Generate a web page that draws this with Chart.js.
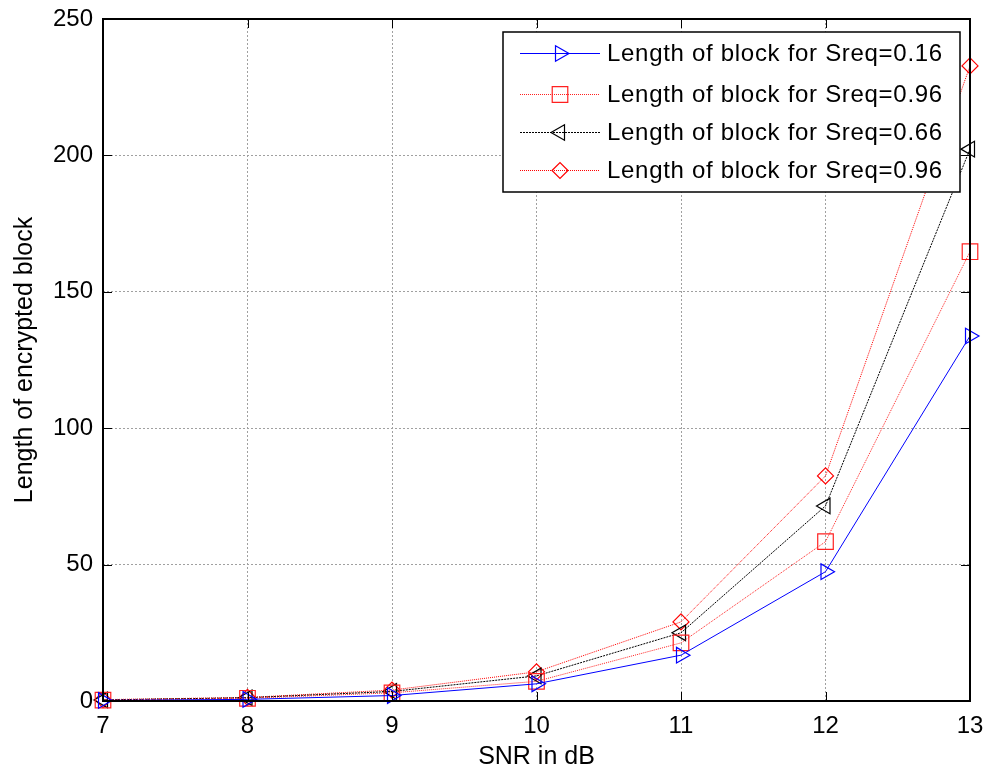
<!DOCTYPE html>
<html>
  <head>
    <title>Length of encrypted block vs SNR</title>
    <script src="https://cdn.jsdelivr.net/npm/chart.js"></script>
    <style>
      html, body { margin: 0; padding: 0; background: #fff; }
      #wrap { width: 989px; height: 773px; }
    </style>
  </head>
  <body>
    <div id="wrap"><canvas id="myChart"></canvas></div>

    <script>
      // values
      const snr = [7, 8, 9, 10, 11, 12, 13];
      const sreq016 = [0.2, 0.6, 2, 6.3, 16.8, 47.4, 133.8];
      const sreq096a = [0.3, 1, 3, 7.2, 21.3, 58.4, 164.7];
      const sreq066 = [0.4, 1.2, 3.5, 9.2, 25, 71.5, 202.3];
      const sreq096b = [0.5, 1.3, 4, 10.7, 29, 82.5, 232.8];
      const seriesLabels = [
        "Length of block for Sreq=0.16",
        "Length of block for Sreq=0.96",
        "Length of block for Sreq=0.66",
        "Length of block for Sreq=0.96",
      ];
      const xTicks = [7, 8, 9, 10, 11, 12, 13];
      const yTicks = [0, 50, 100, 150, 200, 250];

      const FONT = "'Liberation Sans', Arial, sans-serif";
      const toXY = (arr) => arr.map((v, i) => ({ x: snr[i], y: v }));

      const styles = [
        { color: "#0000ff", dash: [], point: "triangle", rot: 90, r: 9 },
        { color: "#ff2020", dash: [1, 1], point: "rect", rot: 0, r: 11 },
        { color: "#000000", dash: [2, 1], point: "triangle", rot: -90, r: 9 },
        { color: "#ff0000", dash: [1, 1], point: "rectRot", rot: 0, r: 8 },
      ];
      const allData = [sreq016, sreq096a, sreq066, sreq096b];

      const datasets = allData.map((d, i) => ({
        label: seriesLabels[i],
        data: toXY(d),
        borderColor: styles[i].color,
        backgroundColor: "rgba(0,0,0,0)",
        borderWidth: 1,
        borderDash: styles[i].dash,
        pointStyle: styles[i].point,
        pointRotation: styles[i].rot,
        pointRadius: styles[i].r,
        pointBorderColor: styles[i].color,
        pointBackgroundColor: "rgba(0,0,0,0)",
        pointBorderWidth: 1.2,
        pointHoverRadius: styles[i].r,
        clip: false,
        tension: 0,
      }));

      // box, inward ticks and legend like a MATLAB figure
      const matlabFrame = {
        id: "matlabFrame",
        afterDraw(chart) {
          const { ctx, chartArea: a, scales } = chart;
          ctx.save();
          ctx.strokeStyle = "#000";
          ctx.lineWidth = 2;
          ctx.setLineDash([]);
          ctx.strokeRect(a.left, a.top, a.right - a.left, a.bottom - a.top);
          ctx.lineWidth = 1;
          const tl = 9;
          ctx.beginPath();
          xTicks.forEach((t) => {
            const px = Math.round(scales.x.getPixelForValue(t)) + 0.5;
            ctx.moveTo(px, a.bottom);
            ctx.lineTo(px, a.bottom - tl);
            ctx.moveTo(px, a.top);
            ctx.lineTo(px, a.top + tl);
          });
          yTicks.forEach((t) => {
            const py = Math.round(scales.y.getPixelForValue(t)) + 0.5;
            ctx.moveTo(a.left, py);
            ctx.lineTo(a.left + tl, py);
            ctx.moveTo(a.right, py);
            ctx.lineTo(a.right - tl, py);
          });
          ctx.stroke();

          // legend
          const bx = 503, by = 32, bw = 457, bh = 160;
          ctx.fillStyle = "#fff";
          ctx.fillRect(bx, by, bw, bh);
          ctx.strokeStyle = "#000";
          ctx.lineWidth = 1.5;
          ctx.strokeRect(bx, by, bw, bh);
          ctx.font = "24px " + FONT;
          ctx.letterSpacing = "0.7px";
          ctx.textBaseline = "middle";
          ctx.textAlign = "left";
          const rowY = [53, 94, 132, 170];
          seriesLabels.forEach((lab, i) => {
            const s = styles[i];
            const y = rowY[i] + 0.5;
            ctx.strokeStyle = s.color;
            ctx.lineWidth = 1;
            ctx.setLineDash(s.dash);
            ctx.beginPath();
            ctx.moveTo(520, y);
            ctx.lineTo(600, y);
            ctx.stroke();
            ctx.setLineDash([]);
            ctx.fillStyle = "rgba(0,0,0,0)";
            ctx.strokeStyle = s.color;
            ctx.lineWidth = 1.2;
            Chart.helpers.drawPoint(ctx, {
              pointStyle: s.point,
              rotation: s.rot,
              radius: s.r,
              borderWidth: 1.2,
            }, 560, y);
            ctx.fillStyle = "#000";
            ctx.fillText(lab, 607, rowY[i] + 1);
          });
          ctx.restore();
        },
      };

      const ctx = document.getElementById("myChart").getContext("2d");
      const myChart = new Chart(ctx, {
        type: "line",
        data: { datasets: datasets },
        options: {
          responsive: true,
          maintainAspectRatio: false,
          animation: false,
          layout: { padding: { top: 19, right: 19, left: 0, bottom: 0 } },
          plugins: { legend: { display: false }, tooltip: { enabled: false } },
          scales: {
            x: {
              type: "linear",
              min: 7,
              max: 13,
              afterBuildTicks: (scale) => {
                scale.ticks = xTicks.map((v) => ({ value: v }));
              },
              afterFit: (scale) => {
                scale.height = 72;
                scale.paddingLeft = 0;
                scale.paddingRight = 0;
              },
              grid: { color: "#a0a0a0", lineWidth: 1, drawTicks: false },
              border: { display: false, dash: [2, 2] },
              ticks: {
                color: "#000",
                font: { family: FONT, size: 24 },
                padding: 11,
                maxRotation: 0,
              },
              title: {
                display: true,
                text: "SNR in dB",
                color: "#000",
                font: { family: FONT, size: 25 },
                padding: { top: 0, bottom: 1 },
              },
            },
            y: {
              min: 0,
              max: 250,
              afterBuildTicks: (scale) => {
                scale.ticks = yTicks.map((v) => ({ value: v }));
              },
              afterFit: (scale) => {
                scale.width = 103;
                scale.paddingTop = 0;
                scale.paddingBottom = 0;
              },
              grid: { color: "#a0a0a0", lineWidth: 1, drawTicks: false },
              border: { display: false, dash: [2, 2] },
              ticks: {
                color: "#000",
                font: { family: FONT, size: 24 },
                padding: 10,
              },
              title: {
                display: true,
                text: "Length of encrypted block",
                color: "#000",
                font: { family: FONT, size: 25 },
                padding: { top: 10, bottom: 0 },
              },
            },
          },
        },
        plugins: [matlabFrame],
      });
    </script>
  </body>
</html>
